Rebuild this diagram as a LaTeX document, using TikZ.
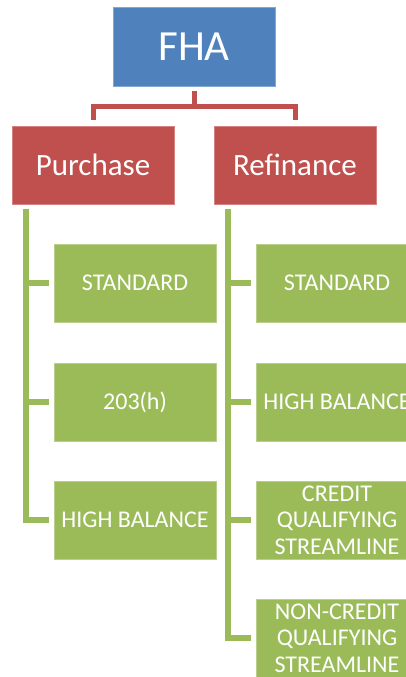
\documentclass[tikz,border=0pt]{standalone}
\usepackage{fontspec}
\setmainfont{Carlito}
\usetikzlibrary{calc}
\definecolor{fhablue}{HTML}{4F81BD}
\definecolor{loanred}{HTML}{C0504D}
\definecolor{optgreen}{HTML}{9BBB59}

\begin{document}
\begin{tikzpicture}[x=1pt, y=-1pt,
  topbox/.style={fill=fhablue, draw=fhablue!70!white, line width=0.8pt, text=white,
    minimum width=162pt, minimum height=79pt, font=\fontsize{43}{50}\selectfont},
  midbox/.style={fill=loanred, draw=loanred!70!white, line width=0.8pt, text=white,
    minimum width=162pt, minimum height=78pt, font=\fontsize{31}{36}\selectfont},
  optbox/.style={fill=optgreen, draw=optgreen!70!white, line width=0.8pt, text=white,
    minimum width=162pt, minimum height=78pt, inner sep=0pt, align=center,
    font=\fontsize{24}{26.5}\selectfont},
  redlink/.style={loanred, line width=5pt, shorten <=5pt, shorten >=6pt},
  greenlink/.style={optgreen, line width=6pt, shorten >=5pt}]

% Page
\useasboundingbox (0,0) rectangle (406,677);
\clip (0,0) rectangle (406,677);
\fill[white] (0,0) rectangle (406,677);

% Top level
\node[topbox] (fha) at (194,46.5) {FHA};

% Loan purpose
\node[midbox] (purchase) at (93,165) {Purchase};
\node[midbox] (refinance) at (295,165) {Refinance};

\draw[redlink] (fha.south) -- ++(0,20) -| (purchase.north);
\draw[redlink] (fha.south) -- ++(0,20) -| (refinance.north);

% Purchase options
\node[optbox] (pstd) at (135,283) {STANDARD};
\node[optbox] (p203) at (135,402) {203(h)};
\node[optbox] (phigh) at (135,520) {HIGH BALANCE};

% Refinance options
\node[optbox] (rstd) at (337,283) {STANDARD};
\node[optbox] (rhigh) at (337,402) {HIGH BALANCE};
\node[optbox] (rcredit) at (337,520) {CREDIT\\QUALIFYING\\STREAMLINE};
\node[optbox] (rnoncredit) at (337,638) {NON-CREDIT\\QUALIFYING\\STREAMLINE};

% Trunks
\coordinate (ptrunk) at ($(purchase.south west)+(14.5,5)$);
\coordinate (rtrunk) at ($(refinance.south west)+(14,5)$);

\foreach \opt in {pstd,p203,phigh}
  \draw[greenlink] (ptrunk) |- (\opt.west);
\foreach \opt in {rstd,rhigh,rcredit,rnoncredit}
  \draw[greenlink] (rtrunk) |- (\opt.west);

\end{tikzpicture}
\end{document}
